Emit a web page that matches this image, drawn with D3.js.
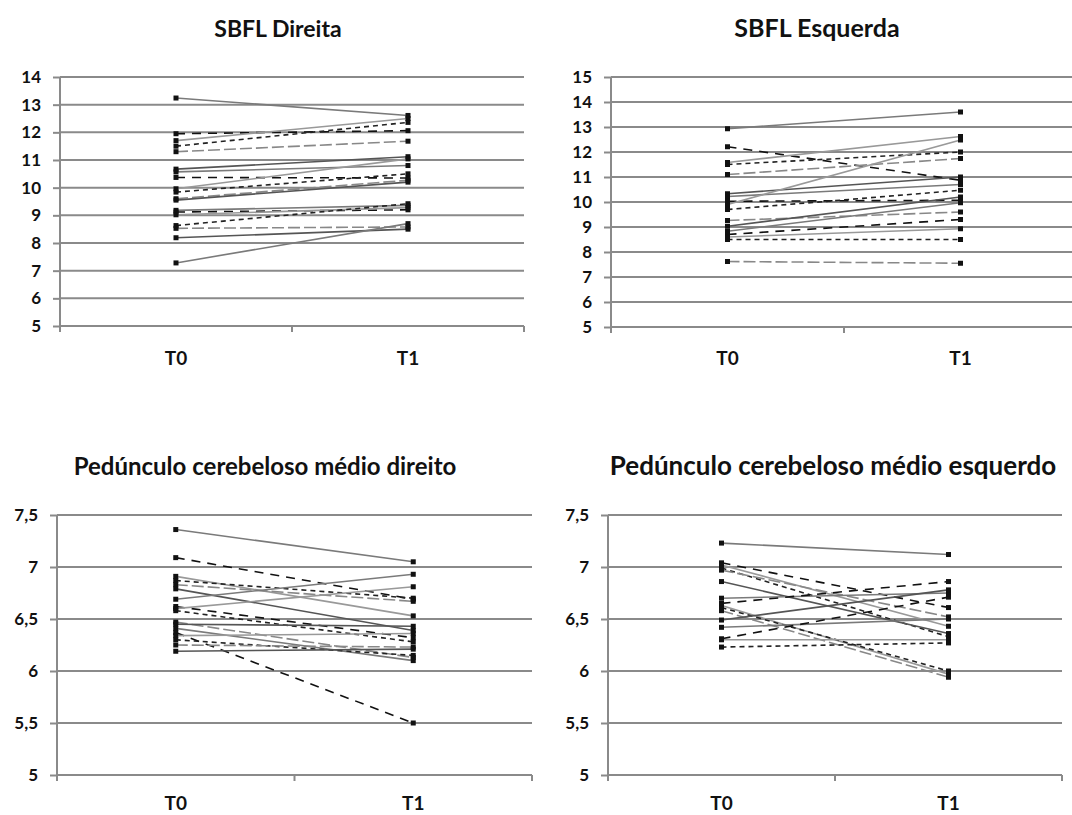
<!DOCTYPE html>
<html>
<head>
<meta charset="utf-8">
<script src="https://cdn.jsdelivr.net/npm/d3@7"></script>
<style>
  html, body { margin: 0; padding: 0; background: #fff; }
  svg text { font-family: "Lato", "Open Sans", "DejaVu Sans", sans-serif; font-weight: 700; fill: #111; }
</style>
</head>
<body>
<svg id="chart" width="1072" height="815"></svg>
<script>
// Time points
const timepoints = ["T0", "T1"];

// SBFL Direita: paired values per subject [T0, T1]
const sbflDireitaT0 = [13.24, 11.95, 11.7, 11.5, 11.3, 10.67, 10.57, 10.37, 9.96, 9.84, 9.6, 9.55, 9.18, 9.12, 9.02, 8.63, 8.53, 8.19, 7.28];
const sbflDireitaT1 = [12.61, 12.06, 12.5, 12.36, 11.68, 11.12, 10.8, 10.35, 11.04, 10.5, 10.27, 10.2, 9.36, 9.2, 9.28, 9.42, 8.58, 8.5, 8.7];
const sbflDireitaTicks = [5, 6, 7, 8, 9, 10, 11, 12, 13, 14];

// SBFL Esquerda
const sbflEsquerdaT0 = [12.93, 12.21, 11.58, 11.5, 11.1, 10.33, 10.22, 10.03, 9.9, 9.7, 9.26, 9.03, 8.83, 8.7, 8.6, 8.5, 7.62];
const sbflEsquerdaT1 = [13.6, 10.87, 12.62, 12.0, 11.74, 11.0, 10.7, 10.07, 12.48, 10.47, 9.6, 10.2, 9.97, 9.3, 8.93, 8.5, 7.55];
const sbflEsquerdaTicks = [5, 6, 7, 8, 9, 10, 11, 12, 13, 14, 15];

// Pedúnculo cerebeloso médio direito
const pcmDireitoT0 = [7.36, 7.09, 6.91, 6.87, 6.83, 6.79, 6.69, 6.62, 6.6, 6.58, 6.47, 6.45, 6.41, 6.37, 6.34, 6.30, 6.25, 6.19];
const pcmDireitoT1 = [7.05, 6.69, 6.53, 6.70, 6.67, 6.39, 6.93, 6.32, 6.81, 6.28, 6.13, 6.43, 6.10, 5.5, 6.36, 6.15, 6.23, 6.21];
const pcmTicks = [5, 5.5, 6, 6.5, 7, 7.5];

// Pedúnculo cerebeloso médio esquerdo
const pcmEsquerdoT0 = [7.23, 7.04, 7.02, 6.99, 6.97, 6.86, 6.70, 6.65, 6.63, 6.61, 6.58, 6.49, 6.42, 6.31, 6.30, 6.23];
const pcmEsquerdoT1 = [7.12, 6.61, 6.43, 6.33, 6.52, 6.36, 6.75, 6.86, 5.97, 6.0, 5.94, 6.78, 6.50, 6.71, 6.30, 6.27];

// Series line styles, cycled per subject (grey solid / black dashed mix)
const lineStyles = [
  { stroke: "#7a7a7a", dash: null },
  { stroke: "#111", dash: "9,7" },
  { stroke: "#999", dash: null },
  { stroke: "#222", dash: "5,4" },
  { stroke: "#888", dash: "12,4" },
  { stroke: "#555", dash: null }
];

const svg = d3.select("#chart");
const fmt = v => String(v).replace(".", ",");

function drawPanel(cfg) {
  const g = svg.append("g");
  const y = d3.scaleLinear().domain(cfg.domain).range([cfg.bottom, cfg.top]);
  const x = d3.scaleBand().domain(timepoints).range([cfg.left, cfg.right]).padding(0);

  // horizontal gridlines
  g.append("g").selectAll("line").data(cfg.ticks).join("line")
    .attr("x1", cfg.left).attr("x2", cfg.right)
    .attr("y1", d => y(d)).attr("y2", d => y(d))
    .attr("stroke", "#8a8a8a").attr("stroke-width", 2);

  // y axis
  const yAxis = d3.axisLeft(y).tickValues(cfg.ticks).tickFormat(fmt).tickSize(7).tickPadding(12);
  const ya = g.append("g").attr("transform", `translate(${cfg.left},0)`).call(yAxis);
  ya.select(".domain").attr("stroke", "#8a8a8a").attr("stroke-width", 2).attr("d", `M0,${cfg.top}V${cfg.bottom + 3}`);
  ya.selectAll(".tick line").attr("stroke", "#8a8a8a").attr("stroke-width", 2);
  ya.selectAll(".tick text").style("font-size", "17px").attr("fill", "#111");

  // x axis with ticks at category boundaries
  const xa = g.append("g");
  xa.append("line").attr("x1", cfg.left).attr("x2", cfg.right)
    .attr("y1", cfg.bottom).attr("y2", cfg.bottom)
    .attr("stroke", "#8a8a8a").attr("stroke-width", 2);
  const bounds = [x.range()[0], x("T1"), x.range()[1]];
  xa.selectAll("line.tk").data(bounds).join("line").attr("class", "tk")
    .attr("x1", d => d).attr("x2", d => d)
    .attr("y1", cfg.bottom).attr("y2", cfg.bottom + 6)
    .attr("stroke", "#8a8a8a").attr("stroke-width", 2);
  xa.selectAll("text").data(timepoints).join("text")
    .attr("x", d => x(d) + x.bandwidth() / 2)
    .attr("y", cfg.labelY)
    .attr("text-anchor", "middle")
    .style("font-size", "19px")
    .text(d => d);

  // paired subject lines
  const cx = t => x(t) + x.bandwidth() / 2;
  const pairs = cfg.t0.map((v, i) => [v, cfg.t1[i]]);
  const lines = g.append("g");
  lines.selectAll("line").data(pairs).join("line")
    .attr("x1", cx("T0")).attr("x2", cx("T1"))
    .attr("y1", d => y(d[0])).attr("y2", d => y(d[1]))
    .attr("stroke", (d, i) => lineStyles[i % lineStyles.length].stroke)
    .attr("stroke-dasharray", (d, i) => lineStyles[i % lineStyles.length].dash)
    .attr("stroke-width", 1.6);

  // end-point markers
  const pts = [];
  pairs.forEach(p => { pts.push([cx("T0"), p[0]]); pts.push([cx("T1"), p[1]]); });
  lines.selectAll("rect").data(pts).join("rect")
    .attr("x", d => d[0] - 2.5).attr("y", d => y(d[1]) - 2.5)
    .attr("width", 5).attr("height", 5).attr("fill", "#111");

  // title
  svg.append("text").attr("x", cfg.titleX).attr("y", cfg.titleY)
    .attr("text-anchor", "middle").style("font-size", cfg.titleFont + "px").text(cfg.title);
}

drawPanel({ title: "SBFL Direita", titleX: 278, titleY: 37, titleFont: 23,
  left: 60, right: 524, top: 77, bottom: 326, domain: [5, 14], ticks: sbflDireitaTicks,
  t0: sbflDireitaT0, t1: sbflDireitaT1, labelY: 365 });

drawPanel({ title: "SBFL Esquerda", titleX: 817, titleY: 37, titleFont: 25,
  left: 611, right: 1077, top: 77, bottom: 327, domain: [5, 15], ticks: sbflEsquerdaTicks,
  t0: sbflEsquerdaT0, t1: sbflEsquerdaT1, labelY: 365 });

drawPanel({ title: "Pedúnculo cerebeloso médio direito", titleX: 265, titleY: 475, titleFont: 24,
  left: 57, right: 532, top: 515, bottom: 775, domain: [5, 7.5], ticks: pcmTicks,
  t0: pcmDireitoT0, t1: pcmDireitoT1, labelY: 810 });

drawPanel({ title: "Pedúnculo cerebeloso médio esquerdo", titleX: 833, titleY: 475, titleFont: 26,
  left: 608, right: 1062, top: 515, bottom: 775, domain: [5, 7.5], ticks: pcmTicks,
  t0: pcmEsquerdoT0, t1: pcmEsquerdoT1, labelY: 810 });
</script>
</body>
</html>
